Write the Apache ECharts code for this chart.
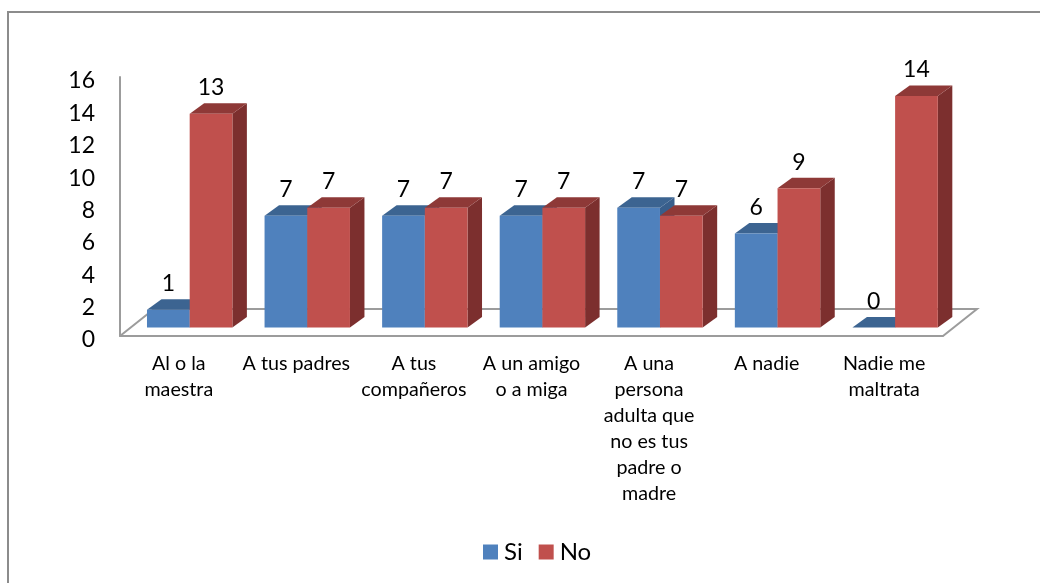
<!DOCTYPE html>
<html>
<head>
<meta charset="utf-8">
<style>html,body{margin:0;padding:0;background:#fff}#c{width:1040px;height:583px}</style>
<script src="https://cdn.jsdelivr.net/npm/echarts@6/dist/echarts.min.js"></script>
</head>
<body>
<div id="c"></div>
<script>
const categories = ['Al o la\nmaestra','A tus padres','A tus\ncompañeros','A un amigo\no a miga','A una\npersona\nadulta que\nno es tus\npadre o\nmadre','A nadie','Nadie me\nmaltrata'];
const si = [1.1, 6.9, 6.9, 6.9, 7.4, 5.8, 0];
const no = [13.2, 7.4, 7.4, 7.4, 6.9, 8.6, 14.3];
const yMin = 0, yMax = 16, yStep = 2;

const FONT = 'Lato, "Open Sans", sans-serif';
const DX = 14.5, DY = 10.5, LIFT = 8.5;
const BAR_W = 42.7;

function barRenderer(startOffset, front, top, side) {
  return function (params, api) {
    const i = api.value(0), v = api.value(1);
    const c0 = api.coord([i, 0]), c1 = api.coord([i, v]);
    const x0 = c0[0] + startOffset, x1 = x0 + BAR_W;
    const yb = c0[1] - LIFT, yt = c1[1] - LIFT;
    return {
      type: 'group',
      children: [
        { type: 'polygon', shape: { points: [[x1, yb], [x1 + DX, yb - DY], [x1 + DX, yt - DY], [x1, yt]] }, style: { fill: side } },
        { type: 'polygon', shape: { points: [[x0, yt], [x0 + DX, yt - DY], [x1 + DX, yt - DY], [x1, yt]] }, style: { fill: top } },
        { type: 'rect', shape: { x: x0, y: yt, width: BAR_W, height: yb - yt }, style: { fill: front } },
        { type: 'text', style: { x: (x0 + x1) / 2, y: yt - 26, text: String(Math.round(v)), align: 'center', verticalAlign: 'middle', fontFamily: FONT, fontSize: 23, fill: '#000' } }
      ]
    };
  };
}

function floorRenderer(params, api) {
  const half = api.size([1, 0])[0] / 2;
  const a = api.coord([0, 0]), b = api.coord([categories.length - 1, 0]);
  const l = a[0] - half, r = b[0] + half, y = a[1];
  return {
    type: 'polyline',
    shape: { points: [[l, y], [l + 34, y - 27], [r + 34, y - 27], [r, y]] },
    style: { fill: null, stroke: '#9c9c9c', lineWidth: 2 }
  };
}

const chart = echarts.init(document.getElementById('c'), null, { renderer: 'canvas' });
chart.setOption({
  animation: false,
  backgroundColor: '#fff',
  graphic: [{ type: 'rect', z: -1, shape: { x: 8, y: 12, width: 1200, height: 800 }, style: { fill: 'none', stroke: '#8c8c8c', lineWidth: 2 } }],
  grid: { left: 120, right: 97, top: 77, bottom: 247 },
  legend: {
    data: ['Si', 'No'], left: 483, top: 540, padding: 0, itemWidth: 15, itemHeight: 15, itemGap: 16, icon: 'rect',
    textStyle: { fontFamily: FONT, fontSize: 24, color: '#000', padding: [0, 0, 0, 1] }
  },
  xAxis: {
    type: 'category', data: categories,
    axisLine: { show: true, lineStyle: { color: '#9c9c9c', width: 2 } },
    axisTick: { show: false },
    splitLine: { show: false },
    axisLabel: { interval: 0, margin: 15, fontFamily: FONT, fontSize: 19.7, lineHeight: 26, color: '#000', align: 'center' }
  },
  yAxis: {
    type: 'value', min: yMin, max: yMax, interval: yStep,
    axisLine: { show: true, lineStyle: { color: '#9c9c9c', width: 2 } },
    axisTick: { show: false },
    splitLine: { show: false },
    axisLabel: { margin: 25, fontFamily: FONT, fontSize: 23, color: '#000', verticalAlign: 'top', lineHeight: 8 }
  },
  series: [
    { type: 'custom', name: 'floor', silent: true, renderItem: floorRenderer, data: [[0, 0]], encode: { x: 0, y: 1 } },
    { type: 'custom', name: 'Si', itemStyle: { color: '#4F81BD' }, renderItem: barRenderer(-31.8, '#4F81BD', '#3C6491', '#385E8B'), data: si.map((v, i) => [i, v]), encode: { x: 0, y: 1 } },
    { type: 'custom', name: 'No', itemStyle: { color: '#C0504D' }, renderItem: barRenderer(10.9, '#C0504D', '#8E3937', '#7C2F2E'), data: no.map((v, i) => [i, v]), encode: { x: 0, y: 1 } }
  ]
});
</script>
</body>
</html>
